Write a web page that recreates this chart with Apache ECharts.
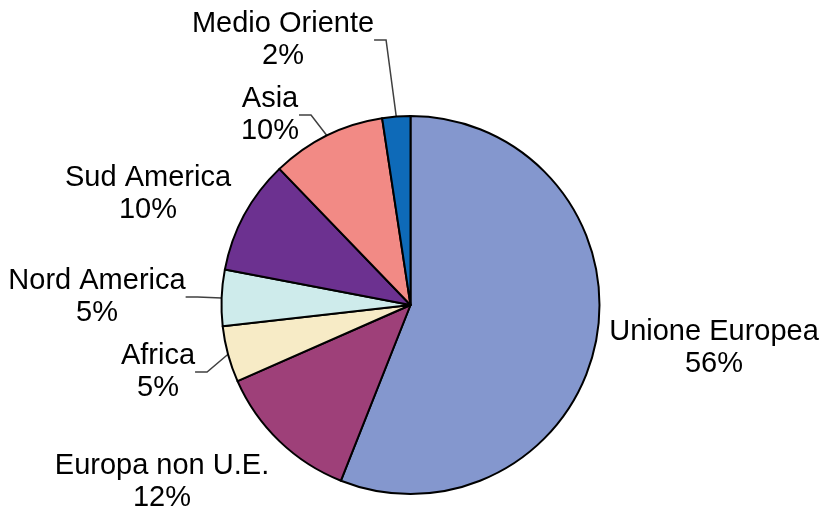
<!DOCTYPE html>
<html>
<head>
<meta charset="utf-8">
<script src="https://cdn.jsdelivr.net/npm/echarts@6/dist/echarts.min.js"></script>
<style>html,body{margin:0;padding:0;background:#fff}#c{width:823px;height:512px}</style>
</head>
<body>
<div id="c"></div>
<script>
var categories = ['Unione Europea', 'Europa non U.E.', 'Africa', 'Nord America', 'Sud America', 'Asia', 'Medio Oriente'];
var values = [56, 12.4, 4.8, 4.8, 9.8, 9.8, 2.4];
var colors = ['#8497CE', '#9E4079', '#F7EBC6', '#CEEBEB', '#6C3190', '#F28A85', '#0E6AB8'];
var showLeader = [false, false, true, true, false, true, true];
// label block centres (x, y)
var labelPos = [[714, 348], [162, 482], [158, 372], [97, 297], [148, 194], [270, 115], [283, 40]];

var chart = echarts.init(document.getElementById('c'), null, {renderer: 'canvas'});
chart.setOption({
  animation: false,
  backgroundColor: '#fff',
  series: [{
    type: 'pie',
    center: [410.5, 305],
    radius: 189,
    startAngle: 90,
    clockwise: true,
    data: categories.map(function (c, i) {
      return {
        name: c, value: values[i],
        itemStyle: {color: colors[i]},
        labelLine: {show: showLeader[i]}
      };
    }),
    itemStyle: {borderColor: '#000', borderWidth: 2},
    label: {
      show: true,
      position: 'outside',
      color: '#000',
      fontFamily: 'Liberation Sans, Arial, sans-serif',
      fontSize: 29,
      lineHeight: 32,
      align: 'center',
      overflow: 'none',
      formatter: function (p) { return p.name + '\n' + Math.round(p.percent) + '%'; }
    },
    labelLine: {lineStyle: {color: '#404040', width: 1.5}, length: 12, length2: 12},
    labelLayout: function (p) {
      var pos = labelPos[p.dataIndex];
      return {x: pos[0], y: pos[1], align: 'center', verticalAlign: 'middle'};
    }
  }]
});
</script>
</body>
</html>
